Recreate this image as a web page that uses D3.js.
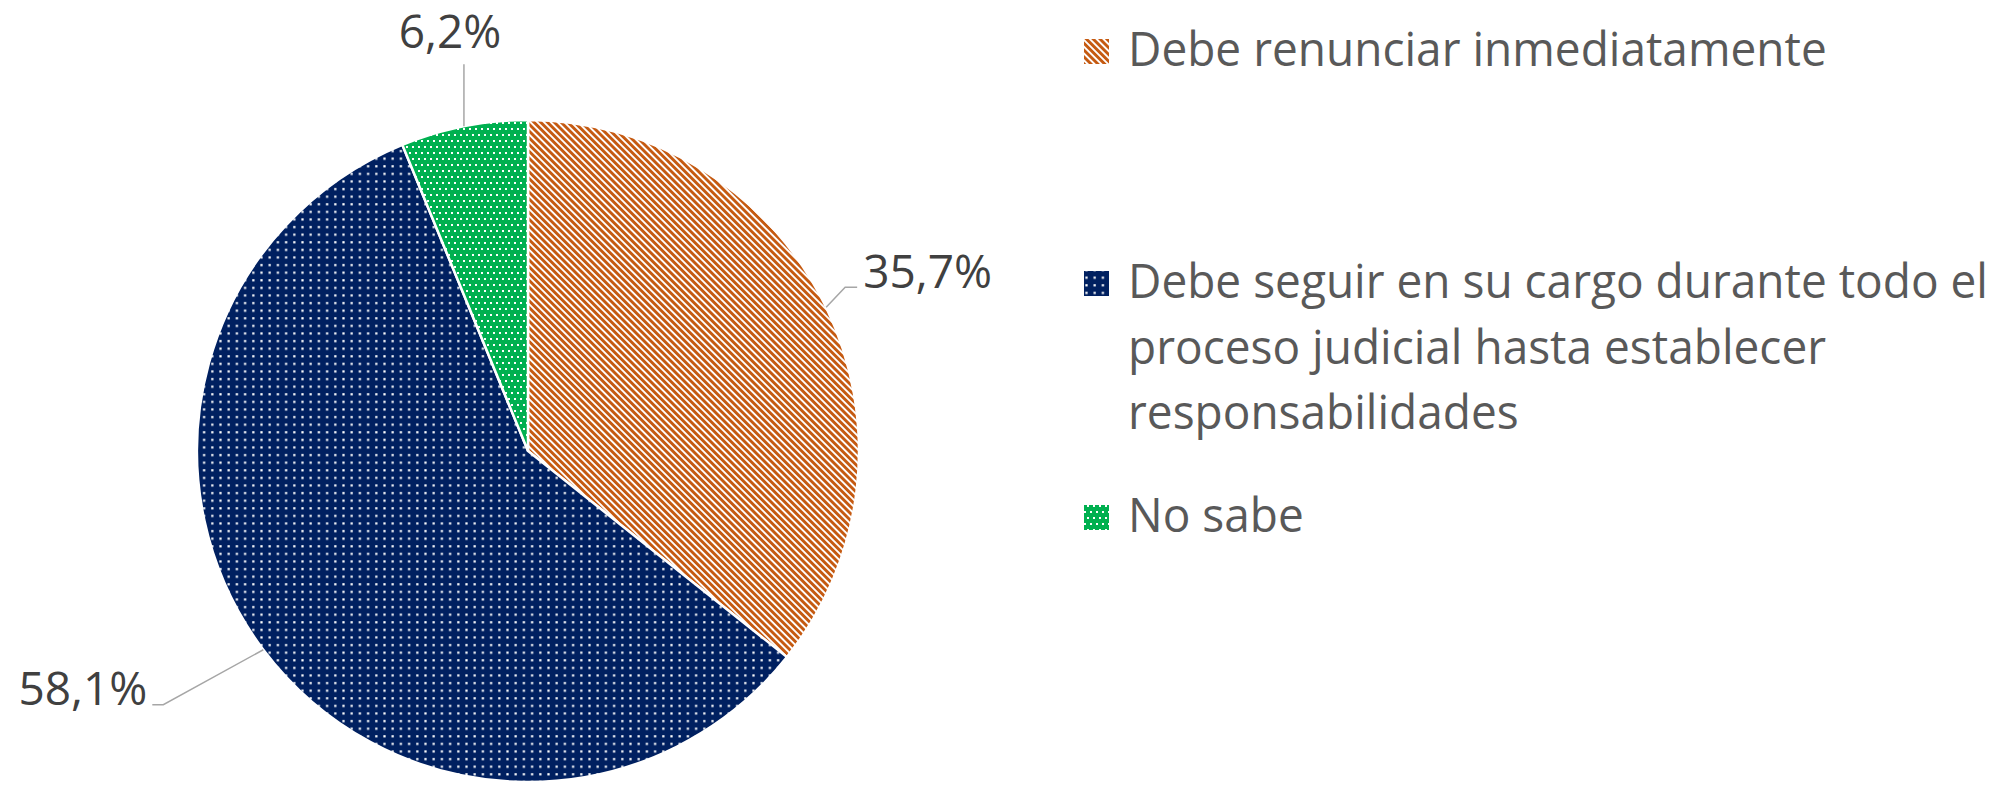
<!DOCTYPE html>
<html>
<head>
<meta charset="utf-8">
<script src="https://cdn.jsdelivr.net/npm/d3@7"></script>
<style>
  body { margin: 0; background: #fff; }
  text { font-family: "Open Sans", "DejaVu Sans", sans-serif; }
</style>
</head>
<body>
<svg id="chart"></svg>
<script>
// data
let categories = ["Debe renunciar inmediatamente",
  "Debe seguir en su cargo durante todo el proceso judicial hasta establecer responsabilidades",
  "No sabe"];
let legendLines = [
  ["Debe renunciar inmediatamente"],
  ["Debe seguir en su cargo durante todo el", "proceso judicial hasta establecer", "responsabilidades"],
  ["No sabe"]
];
let values = [35.7, 58.1, 6.2];
let colors = ["#C55A11", "#002060", "#00B050"];

let width = 2011;
let height = 785;
let cx = 528, cy = 451, radius = 331;

let svg = d3.select('#chart').attr('width', width).attr('height', height);
svg.append('rect').attr('width', width).attr('height', height).attr('fill', '#fff');

// fill patterns
let defs = svg.append('defs');

let stripes = defs.append('pattern')
  .attr('id', 'pat0')
  .attr('patternUnits', 'userSpaceOnUse')
  .attr('width', 4.8).attr('height', 4.8)
  .attr('patternTransform', 'rotate(-45)');
stripes.append('rect').attr('width', 4.8).attr('height', 4.8).attr('fill', '#fff');
stripes.append('rect').attr('width', 2.9).attr('height', 4.8).attr('fill', colors[0]);

let dots = defs.append('pattern')
  .attr('id', 'pat1')
  .attr('patternUnits', 'userSpaceOnUse')
  .attr('width', 8.2).attr('height', 7.6);
dots.append('rect').attr('width', 8.2).attr('height', 7.6).attr('fill', colors[1]);
dots.append('rect').attr('x', 3).attr('y', 3).attr('width', 2.2).attr('height', 2.2).attr('fill', '#fff');

let dots2 = defs.append('pattern')
  .attr('id', 'pat2')
  .attr('patternUnits', 'userSpaceOnUse')
  .attr('width', 6).attr('height', 12);
dots2.append('rect').attr('width', 6).attr('height', 12).attr('fill', colors[2]);
dots2.append('rect').attr('x', 1).attr('y', 1).attr('width', 2).attr('height', 2).attr('fill', '#fff');
dots2.append('rect').attr('x', 4).attr('y', 7).attr('width', 2).attr('height', 2).attr('fill', '#fff');

// pie
let pie = d3.pie().sort(null).value(d => d);
let arcs = pie(values);
let arc = d3.arc().innerRadius(0).outerRadius(radius);

let g = svg.append('g').attr('transform', 'translate(' + cx + ',' + cy + ')');
g.selectAll('path.slice')
  .data(arcs)
  .enter()
  .append('path')
  .attr('class', 'slice')
  .attr('d', arc)
  .attr('fill', (d, i) => 'url(#pat' + i + ')')
  .attr('stroke', '#fff')
  .attr('stroke-width', 2.5);

// data labels with leader lines
let elbows = [[19, -20, 12], [-100, 55, -11], [0, -62, 0]];
let labelShift = [[6, 1, 'start'], [-5, 0, 'end'], [-14, -16, 'middle']];

arcs.forEach((d, i) => {
  let a = (d.startAngle + d.endAngle) / 2;
  let x0 = Math.sin(a) * radius, y0 = -Math.cos(a) * radius;
  let x1 = x0 + elbows[i][0], y1 = y0 + elbows[i][1];
  let x2 = x1 + elbows[i][2];
  g.append('path')
    .attr('d', d3.line()([[x0, y0], [x1, y1], [x2, y1]]))
    .attr('fill', 'none')
    .attr('stroke', '#A6A6A6')
    .attr('stroke-width', 1.5);
  g.append('text')
    .attr('x', x2 + labelShift[i][0])
    .attr('y', y1 + labelShift[i][1])
    .attr('text-anchor', labelShift[i][2])
    .attr('font-size', 46)
    .attr('fill', '#404040')
    .text(values[i].toFixed(1).replace('.', ',') + '%');
});

// legend
let legendX = 1084;
let swatch = 25;
let lineGap = 65.5;
let itemTops = [66, 298, 532];

let legend = svg.append('g');
let texts = [];
legendLines.forEach((lines, i) => {
  legend.append('rect')
    .attr('x', legendX)
    .attr('y', itemTops[i] - swatch - 2)
    .attr('width', swatch)
    .attr('height', swatch)
    .attr('fill', 'url(#pat' + i + ')');
  lines.forEach((ln, j) => {
    let t = legend.append('text')
      .attr('x', legendX + 44)
      .attr('y', itemTops[i] + j * lineGap)
      .attr('font-size', 47)
      .attr('fill', '#595959')
      .text(ln);
    texts.push(t);
  });
});

// squeeze legend text to the width of the original face
let ref = texts[1].node().getComputedTextLength();
let k = 860 / ref;
texts.forEach(t => {
  let w = t.node().getComputedTextLength();
  t.attr('textLength', w * k).attr('lengthAdjust', 'spacingAndGlyphs');
});
</script>
</body>
</html>
